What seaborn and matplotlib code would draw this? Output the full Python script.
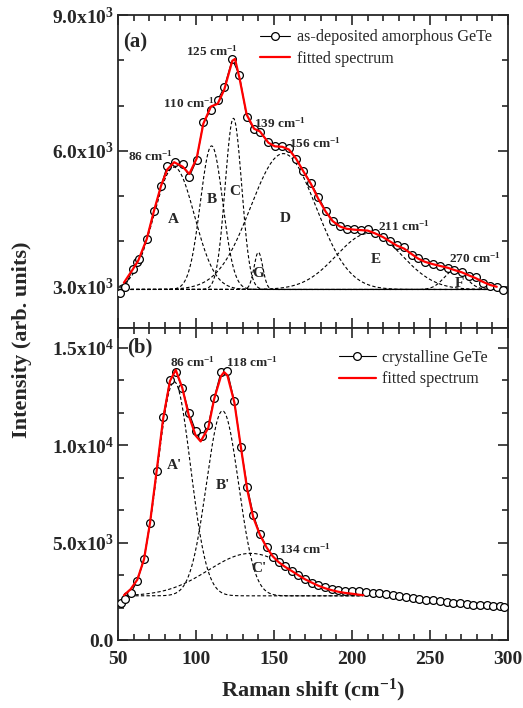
import numpy as np
import seaborn as sns
import matplotlib.pyplot as plt
from matplotlib.ticker import FixedLocator, MultipleLocator

# ---- (a) as-deposited amorphous GeTe ----
amo_shift = [51.3, 54.5, 59.4, 62.4, 63.7, 68.4, 73.1, 77.6, 81.6, 86.5, 91.5, 95.7,
             100.4, 104.7, 109.6, 113.9, 118.1, 123.3, 127.8, 132.5, 137.2, 141.0,
             146.4, 150.6, 155.3, 159.7, 164.1, 168.8, 173.7, 178.4, 183.1, 187.6,
             192.3, 196.6, 201.5, 205.8, 210.1, 214.7, 219.7, 224.4, 228.7, 233.5,
             238.3, 242.5, 246.8, 251.7, 256.4, 261.3, 265.6, 270.3, 275.0, 279.3,
             283.8, 288.5, 292.8, 297.0]
amo_int = [2855, 3000, 3385, 3553, 3606, 4054, 4672, 5224, 5672, 5760, 5703, 5430,
           5798, 6630, 6902, 7123, 7403, 8022, 7675, 6755, 6476, 6423,
           6189, 6114, 6114, 6060, 5814, 5563, 5284, 4988, 4679, 4458,
           4341, 4282, 4268, 4253, 4268, 4180, 4105, 4017, 3915, 3871,
           3701, 3628, 3553, 3496, 3465, 3421, 3370, 3333, 3244, 3222,
           3076, 3023, 2988, 2928]

amo_fit_shift = [53.8, 59.4, 63.0, 68.4, 73.1, 77.6, 81.6, 86.0, 91.5, 95.7, 100.4,
                 104.7, 109.6, 113.9, 118.1, 123.3, 125.0, 127.8, 132.5, 137.2, 141.0,
                 146.4, 150.6, 155.3, 159.6, 164.1, 168.8, 173.7, 178.4, 183.1, 187.6,
                 192.3, 196.6, 201.5, 205.8, 210.1, 214.7, 219.7, 224.4, 228.7, 233.5,
                 238.3, 242.5, 246.8, 251.7, 256.4, 261.3, 265.6, 270.3, 275.0, 279.3,
                 283.8, 288.5, 292.8]
amo_fit_int = [3090, 3380, 3580, 4050, 4680, 5230, 5590, 5750, 5650, 5490, 5830,
               6600, 6980, 7040, 7350, 7990, 8030, 7620, 6800, 6490, 6430,
               6180, 6100, 6090, 6030, 5830, 5550, 5270, 4940, 4660, 4450,
               4330, 4280, 4260, 4250, 4240, 4180, 4100, 4000, 3910, 3840,
               3720, 3620, 3550, 3500, 3460, 3420, 3370, 3320, 3250, 3190,
               3110, 3040, 3000]

# gaussian components: centre, height above baseline, width
amo_base = 2940
amo_peaks = ["A", "B", "C", "G", "D", "E", "F"]
amo_center = [86, 110, 124, 140, 156, 211, 266]
amo_height = [2700, 3170, 3780, 820, 3000, 1240, 430]
amo_sigma = [13.0, 7.2, 5.3, 2.8, 21.0, 21.0, 7.0]

# ---- (b) crystalline GeTe ----
cry_shift = [51.7, 54.5, 58.3, 62.4, 66.7, 70.5, 74.8, 79.0, 83.3, 87.2, 91.2, 95.5,
             99.8, 103.6, 107.9, 111.7, 116.0, 120.1, 124.6, 128.7, 132.9, 136.7,
             141.0, 145.3, 149.2, 153.0, 157.1, 161.3, 165.6, 169.9, 174.2, 178.4,
             182.7, 187.0, 191.2, 195.5, 199.8, 204.5, 209.0, 213.3, 217.5, 221.8,
             226.1, 230.3, 234.6, 238.9, 243.1, 247.4, 251.7, 256.4, 260.7, 264.9,
             269.2, 273.5, 277.8, 282.1, 286.3, 290.6, 294.9, 297.6]
cry_int = [1882, 2087, 2426, 3041, 4154, 6036, 8683, 11453, 13369, 13759, 12938, 11676,
           10733, 10461, 11061, 12446, 13759, 13810, 12256, 9914, 7861, 6446,
           5436, 4786, 4272, 4030, 3795, 3565, 3340, 3130, 2950, 2810,
           2700, 2632, 2564, 2530, 2513, 2513, 2479, 2428, 2393, 2342,
           2308, 2256, 2205, 2154, 2120, 2068, 2034, 1983, 1949, 1914,
           1880, 1846, 1812, 1795, 1778, 1760, 1744, 1709]

cry_fit_shift = [53.8, 58.0, 62.4, 66.7, 70.5, 74.8, 79.0, 83.3, 87.0, 91.2, 95.5,
                 99.8, 103.0, 107.9, 111.7, 116.0, 118.0, 120.1, 124.6, 128.7, 132.9,
                 136.7, 141.0, 145.3, 149.2, 153.0, 157.1, 161.3, 165.6, 169.9, 174.2,
                 178.4, 182.7, 187.0, 191.2, 195.5, 199.8, 204.0, 207.3]
cry_fit_int = [2300, 2600, 3100, 4150, 6000, 8700, 11400, 13300, 13880, 12950, 11500,
               10500, 10200, 10900, 12400, 13550, 13760, 13600, 12200, 9950, 7700,
               6300, 5400, 4750, 4300, 4000, 3760, 3550, 3330, 3120, 2950,
               2790, 2660, 2560, 2480, 2420, 2380, 2330, 2300]

cry_base = 2270
cry_peaks = ["A'", "B'", "C'"]
cry_center = [86, 117, 135]
cry_height = [11000, 9500, 2180]
cry_sigma = [10.5, 10.3, 27.0]

sns.set_style("ticks")
plt.rcParams["font.family"] = ["Liberation Serif", "DejaVu Serif"]
plt.rcParams["mathtext.fontset"] = "custom"
plt.rcParams["mathtext.rm"] = "Liberation Serif"
plt.rcParams["mathtext.bf"] = "Liberation Serif:bold"
plt.rcParams["mathtext.default"] = "bf"

fig, (ax1, ax2) = plt.subplots(2, 1, figsize=(5.23, 7.08), dpi=100, sharex=True)
fig.subplots_adjust(left=0.2256, right=0.9713, top=0.9788, bottom=0.096, hspace=0)


def draw_components(ax, base, centers, heights, sigmas, lo, hi):
    xs = np.linspace(lo, hi, 600)
    for c, h, s in zip(centers, heights, sigmas):
        ys = base + h * np.exp(-(xs - c) ** 2 / (2 * s ** 2))
        sns.lineplot(x=xs, y=ys, ax=ax, color="black", lw=0.8,
                     linestyle=(0, (3, 2)), zorder=2)


def draw_panel(ax, sx, sy, fx, fy, label, anchor, hlen):
    sns.lineplot(x=sx, y=sy, ax=ax, color="black", lw=0.8, marker="o", ms=5.6,
                 markerfacecolor="white", markeredgecolor="black", mew=0.9,
                 label=label, zorder=3)
    sns.lineplot(x=fx, y=fy, ax=ax, color="red", lw=1.6,
                 label="fitted spectrum", zorder=4)
    ax.legend(loc="upper right", frameon=False, fontsize=11.6, handlelength=hlen,
              borderaxespad=0.0, labelspacing=0.35, handletextpad=0.4,
              bbox_to_anchor=anchor)


draw_components(ax1, amo_base, amo_center, amo_height, amo_sigma, 51, 296)
draw_panel(ax1, amo_shift, amo_int, amo_fit_shift, amo_fit_int,
           "as-deposited amorphous GeTe", (0.975, 0.975), 1.9)
draw_components(ax2, cry_base, cry_center, cry_height, cry_sigma, 54, 207)
draw_panel(ax2, cry_shift, cry_int, cry_fit_shift, cry_fit_int, "crystalline GeTe",
           (0.965, 0.95), 2.3)

ax1.set_ylim(2100, 9000)
ax2.set_ylim(0, 16050)
ax2.set_xlim(50, 300)

ax1.yaxis.set_major_locator(FixedLocator([3000, 6000, 9000]))
ax1.set_yticklabels(["3.0x10$^3$", "6.0x10$^3$", "9.0x10$^3$"])
ax1.yaxis.set_minor_locator(MultipleLocator(1000))
ax2.yaxis.set_major_locator(FixedLocator([0, 5000, 10000, 15000]))
ax2.set_yticklabels(["0.0", "5.0x10$^3$", "1.0x10$^4$", "1.5x10$^4$"])
ax2.yaxis.set_minor_locator(MultipleLocator(5000 / 3))
ax2.xaxis.set_major_locator(MultipleLocator(50))
ax2.xaxis.set_minor_locator(MultipleLocator(10))

for ax in (ax1, ax2):
    ax.set_xlabel("")
    ax.set_ylabel("")
    for sp in ax.spines.values():
        sp.set_visible(True)
        sp.set_linewidth(1.3)
    ax.tick_params(which="both", direction="in", top=True, right=True, width=1.2)
    ax.tick_params(which="major", length=7, labelsize=14, pad=3)
    ax.tick_params(which="minor", length=4)
    for t in ax.get_yticklabels() + ax.get_xticklabels():
        t.set_fontweight("bold")
ax2.tick_params(axis="x", which="major", pad=8)

ax2.set_xlabel("Raman shift (cm$^{-1}$)", fontsize=16, fontweight="bold", labelpad=6)
fig.text(0.042, 0.52, "Intensity (arb. units)", rotation=90, fontsize=16,
         fontweight="bold", ha="center", va="center")

small = dict(fontweight="bold", fontsize=9.5, ha="center", va="center")
bold = dict(fontweight="bold", fontsize=11, ha="center", va="center")
ax1.text(61, 8400, "(a)", fontweight="bold", fontsize=15, ha="center", va="center")
ax1.text(110, 8190, "125 cm$^{-1}$", **small)
ax1.text(95.5, 7060, "110 cm$^{-1}$", **small)
ax1.text(71, 5890, "86 cm$^{-1}$", **small)
ax1.text(154, 6610, "139 cm$^{-1}$", **small)
ax1.text(176, 6170, "156 cm$^{-1}$", **small)
ax1.text(233, 4330, "211 cm$^{-1}$", **small)
ax1.text(279, 3630, "270 cm$^{-1}$", **small)
amo_label_x = [85.5, 110, 125, 140, 157, 215.4, 268.8]
amo_label_y = [4490, 4930, 5100, 3300, 4510, 3606, 3076]
for name, lx, ly in zip(amo_peaks, amo_label_x, amo_label_y):
    ax1.text(lx, ly, name, **bold)

ax2.text(64, 15040, "(b)", fontweight="bold", fontsize=15, ha="center", va="center")
ax2.text(97.6, 14270, "86 cm$^{-1}$", **small)
ax2.text(136, 14270, "118 cm$^{-1}$", **small)
ax2.text(170, 4650, "134 cm$^{-1}$", **small)
cry_label_x = [86.5, 117.5, 140]
cry_label_y = [8970, 7950, 3680]
for name, lx, ly in zip(cry_peaks, cry_label_x, cry_label_y):
    ax2.text(lx, ly, name, **bold)

plt.savefig("out.png", dpi=100)
plt.close()
